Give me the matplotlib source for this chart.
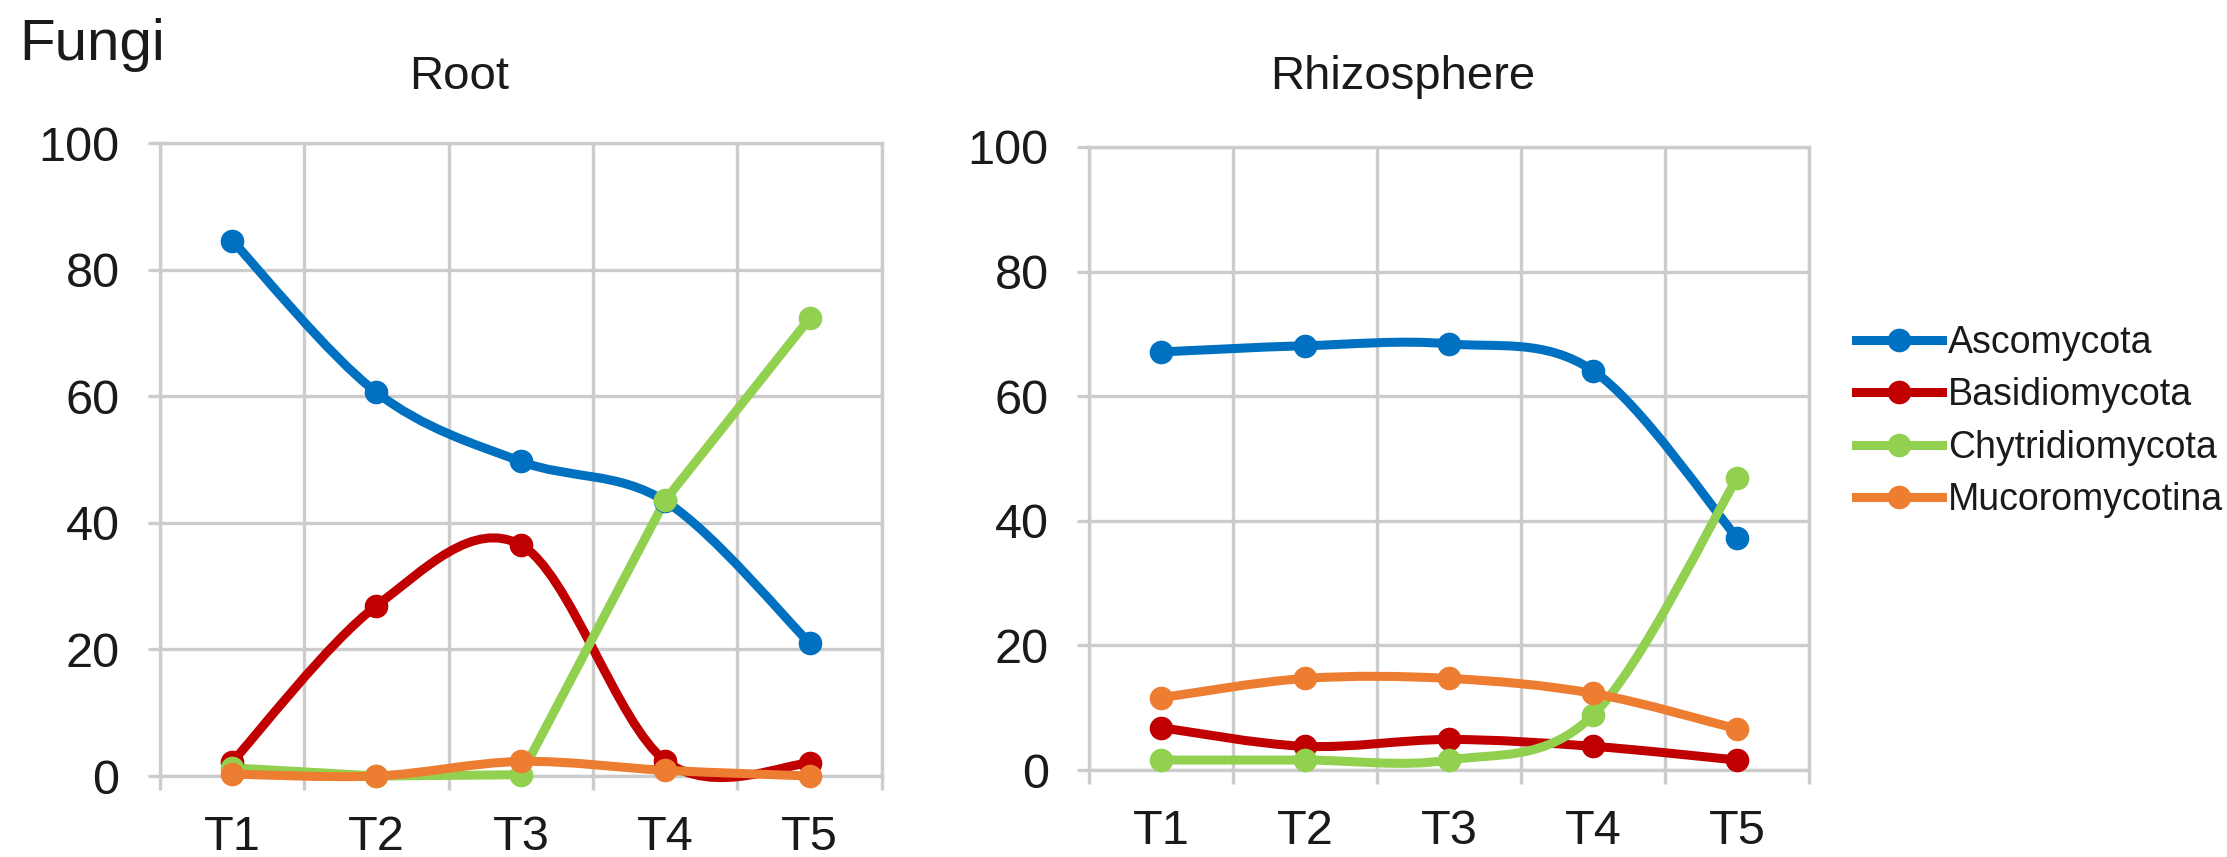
import matplotlib.pyplot as plt
from matplotlib.path import Path
from matplotlib.patches import PathPatch
from matplotlib.lines import Line2D

plt.rcParams["font.family"] = ["Liberation Sans", "DejaVu Sans"]

# Relative abundance (%) of fungal phyla over five sampling times
times = ["T1", "T2", "T3", "T4", "T5"]
phyla = ["Ascomycota", "Basidiomycota", "Chytridiomycota", "Mucoromycotina"]
colors = ["#0070C0", "#C00000", "#92D050", "#ED7D31"]

root_asco = [84.6, 60.6, 49.7, 43.4, 21.0]
root_basidio = [2.2, 26.9, 36.5, 2.4, 2.0]
root_chytrid = [1.3, 0.0, 0.2, 43.6, 72.3]
root_mucoro = [0.3, 0.0, 2.3, 0.9, 0.0]

rhizo_asco = [67.1, 68.1, 68.4, 64.1, 37.3]
rhizo_basidio = [6.8, 3.8, 4.9, 3.8, 1.6]
rhizo_chytrid = [1.6, 1.6, 1.6, 8.8, 46.8]
rhizo_mucoro = [11.6, 14.7, 14.7, 12.3, 6.6]

LW = 6.5
MS = 16
GRID = "#cccccc"
TEXT = "#1a1a1a"


def smooth_path(xs, ys, smooth=True):
    """Catmull-Rom style smoothed line built from cubic Bezier segments."""
    pts = list(zip(xs, ys))
    verts = [pts[0]]
    codes = [Path.MOVETO]
    n = len(pts)
    for i in range(n - 1):
        p1 = pts[i]
        p2 = pts[i + 1]
        if not smooth:
            verts.append(p2)
            codes.append(Path.LINETO)
            continue
        p0 = pts[max(i - 1, 0)]
        p3 = pts[min(i + 2, n - 1)]
        c1 = (p1[0] + (p2[0] - p0[0]) / 6, p1[1] + (p2[1] - p0[1]) / 6)
        c2 = (p2[0] - (p3[0] - p1[0]) / 6, p2[1] - (p3[1] - p1[1]) / 6)
        verts += [c1, c2, p2]
        codes += [Path.CURVE4] * 3
    return Path(verts, codes)


def draw_panel(ax, series, smooth_flags, title, title_x, title_y):
    x = list(range(1, len(times) + 1))
    for vals, color, smooth in zip(series, colors, smooth_flags):
        patch = PathPatch(smooth_path(x, vals, smooth), facecolor="none", edgecolor=color,
                          lw=LW, capstyle="round", joinstyle="round", clip_on=False, zorder=3)
        ax.add_patch(patch)
        ax.plot(x, vals, "o", color=color, ms=MS, clip_on=False, zorder=4)

    ax.set_xlim(0.5, len(times) + 0.5)
    ax.set_ylim(0, 100)
    ax.set_yticks(range(0, 101, 20))
    ax.set_xticks(x)
    ax.set_xticklabels(times)
    ax.set_xticks([i + 0.5 for i in range(len(times) + 1)], minor=True)

    ax.grid(False)
    ax.grid(True, axis="y", which="major", color=GRID, lw=2.4)
    ax.grid(True, axis="x", which="minor", color=GRID, lw=2.4)
    for sp in ax.spines.values():
        sp.set_color(GRID)
        sp.set_linewidth(2.4)

    ax.tick_params(axis="y", which="major", direction="out", length=9, width=2.4,
                   color=GRID, labelsize=35, labelcolor=TEXT, pad=20)
    ax.tick_params(axis="x", which="major", length=0, labelsize=35,
                   labelcolor=TEXT, pad=28)
    ax.tick_params(axis="x", which="minor", direction="out", length=10, width=2.4,
                   color=GRID)
    ax.set_title(title, x=title_x, y=title_y, pad=0, fontsize=34, color=TEXT)


fig = plt.figure(figsize=(22.27, 8.57), dpi=100)
ax1 = fig.add_axes([0.0718, 0.0945, 0.3242, 0.7386])
ax2 = fig.add_axes([0.4890, 0.1015, 0.3233, 0.7270])

draw_panel(ax1, [root_asco, root_basidio, root_chytrid, root_mucoro],
           [True, True, False, True], "Root", 0.415, 1.085)
draw_panel(ax2, [rhizo_asco, rhizo_basidio, rhizo_chytrid, rhizo_mucoro],
           [True, True, True, True], "Rhizosphere", 0.435, 1.093)

fig.text(0.0085, 0.93, "Fungi", fontsize=42, color=TEXT, va="baseline", ha="left")

handles = [Line2D([0], [0], color=c, lw=LW, marker="o", ms=MS) for c in colors]
fig.legend(handles, phyla, loc="center left", bbox_to_anchor=(0.8335, 0.508),
           frameon=False, fontsize=27, handlelength=2.3, handletextpad=0.15,
           labelspacing=0.44, borderpad=0, borderaxespad=0, labelcolor=TEXT)

fig.savefig("out.png", dpi=100)
